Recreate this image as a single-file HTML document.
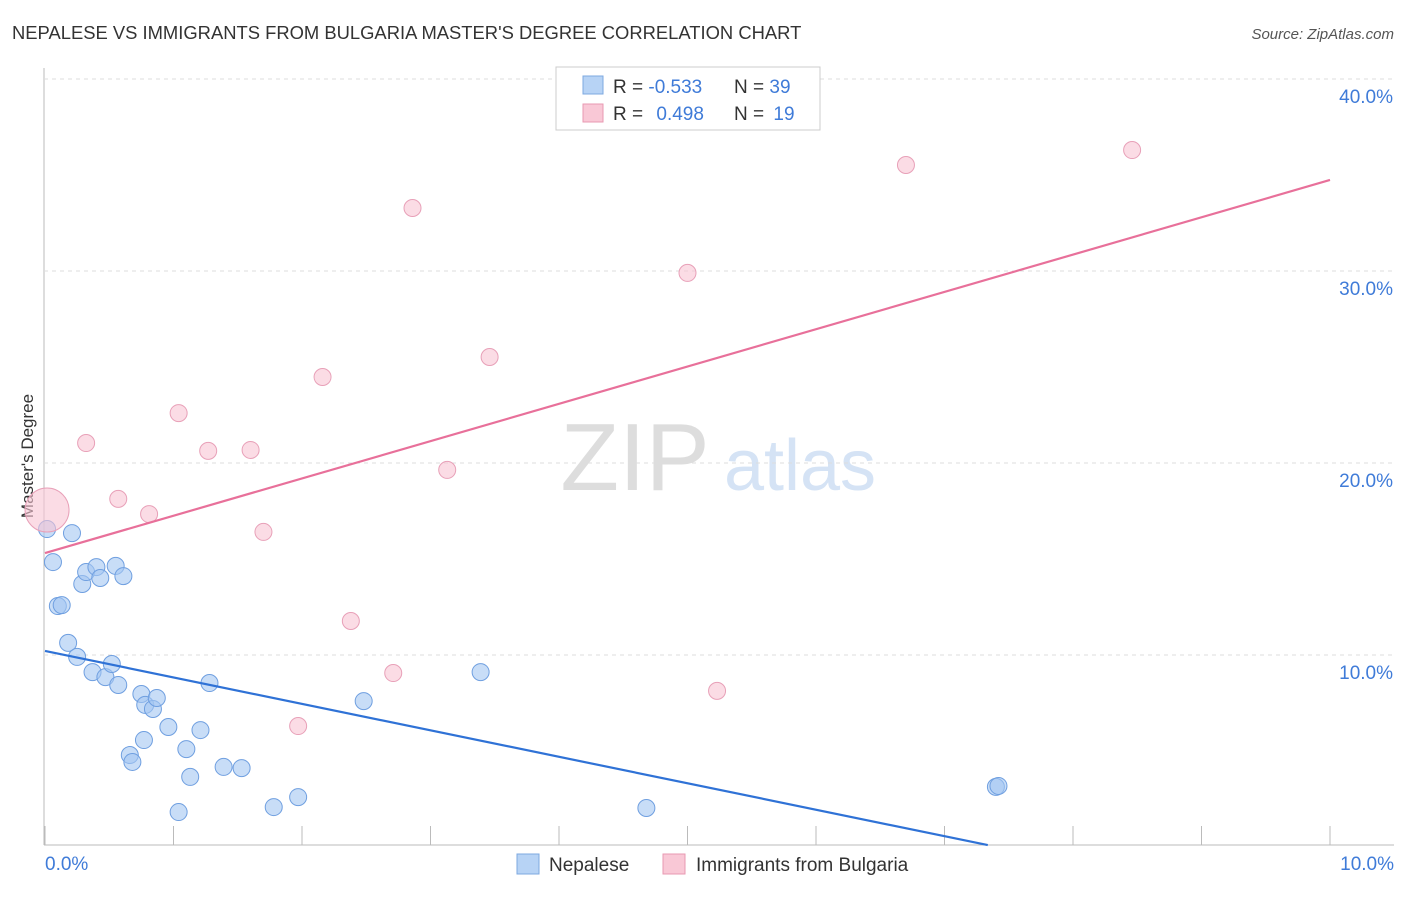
<!DOCTYPE html>
<html><head><meta charset="utf-8"><style>
body{margin:0;background:#fff;font-family:"Liberation Sans",sans-serif;}
svg text{font-family:"Liberation Sans",sans-serif;}
</style></head><body>
<svg id="c" width="1406" height="892" xmlns="http://www.w3.org/2000/svg">
<text x="12" y="39" font-size="18.4" fill="#333">NEPALESE VS IMMIGRANTS FROM BULGARIA MASTER'S DEGREE CORRELATION CHART</text>
<text x="1394" y="39" font-size="15" fill="#555" font-style="italic" text-anchor="end">Source: ZipAtlas.com</text>
<text x="33" y="456" font-size="17" fill="#333" text-anchor="middle" transform="rotate(-90 33 456)">Master's Degree</text>
<g><text x="635" y="490" font-size="96" fill="#ddd" font-family="Liberation Serif" text-anchor="middle">ZIP</text><text x="800" y="490" font-size="72" fill="#d5e3f5" text-anchor="middle">atlas</text></g>
<g id="grid"></g><g id="marks"></g>
<g>
<rect x="556" y="67" width="264" height="63" fill="#fff" stroke="#ccc"/>
<rect x="583" y="76" width="20" height="18" fill="#b7d3f5" stroke="#7ea8e0"/>
<rect x="583" y="104" width="20" height="18" fill="#f9c8d6" stroke="#e899b2"/>
<text x="613" y="93" font-size="19" fill="#333">R = <tspan fill="#3f7bd8">-0.533</tspan></text>
<text x="734" y="93" font-size="19" fill="#333">N = <tspan fill="#3f7bd8">39</tspan></text>
<text x="613" y="120" font-size="19" fill="#333">R = <tspan fill="#3f7bd8" dx="8">0.498</tspan></text>
<text x="734" y="120" font-size="19" fill="#333">N = <tspan fill="#3f7bd8" dx="4">19</tspan></text>
</g>
<g>
<rect x="517" y="854" width="22" height="20" fill="#b7d3f5" stroke="#7ea8e0"/>
<text x="549" y="871" font-size="19" fill="#333">Nepalese</text>
<rect x="663" y="854" width="22" height="20" fill="#f9c8d6" stroke="#e899b2"/>
<text x="696" y="871" font-size="19" fill="#333">Immigrants from Bulgaria</text>
</g>
</svg>
<script>
const xTicks=[0,1,2,3,4,5,6,7,8,9,10];
const yTicks=[10,20,30,40];
const blueX=[0.016,0.062,0.21,0.10,0.13,0.18,0.25,0.29,0.32,0.40,0.43,0.55,0.61,0.37,0.47,0.52,0.57,0.75,0.78,0.84,0.87,0.96,0.77,0.66,0.68,1.10,1.21,1.28,1.13,1.39,1.53,1.04,1.78,1.97,2.48,3.39,4.68,7.40,7.42];
const blueY=[16.56,14.84,16.35,12.55,12.60,10.63,9.90,13.70,14.32,14.58,14.01,14.64,14.11,9.11,8.85,9.53,8.44,7.97,7.40,7.19,7.76,6.25,5.57,4.79,4.43,5.10,6.09,8.54,3.65,4.17,4.11,1.82,2.08,2.60,7.60,9.11,2.03,3.13,3.18];
const pinkX=[0.016,0.32,0.57,0.81,1.04,1.27,1.60,1.70,2.16,2.38,2.71,2.86,3.13,3.46,5.00,5.23,6.70,8.46,1.97];
const pinkY=[17.55,21.04,18.13,17.34,22.60,20.63,20.68,16.41,24.48,11.77,9.06,33.28,19.64,25.52,29.90,8.13,35.52,36.30,6.30];
const blueFit=[10.21,-1.378];
const pinkFit=[15.31,1.943];
const NS="http://www.w3.org/2000/svg";
const sx=v=>45+v*128.5, sy=v=>847-v*19.2;
const grid=document.getElementById('grid'), marks=document.getElementById('marks');
function mk(tag,at,parent){const e=document.createElementNS(NS,tag);for(const k in at)e.setAttribute(k,at[k]);parent.appendChild(e);return e;}
let ax=mk('line',{x1:44,y1:68,x2:44,y2:845,stroke:'#bbb'},grid);


let bx=mk('line',{x1:44,y1:845,x2:1394,y2:845,stroke:'#bbb'},grid);


yTicks.forEach(t=>{
 let g=mk('line',{x1:44,y1:sy(t),x2:1394,y2:sy(t),stroke:'#ddd','stroke-dasharray':'4 4'},grid);
 
 
 let l=mk('text',{x:1393,y:sy(t)+24,'font-size':19,fill:'#3f7bd8','text-anchor':'end'},grid);l.textContent=t.toFixed(1)+'%';
 
 
});
xTicks.forEach(t=>{
 let k=mk('line',{x1:sx(t),y1:826,x2:sx(t),y2:845,stroke:'#bbb'},grid);
 
 
});
[[0,'0.0%','start',45],[10,'10.0%','end',1394]].forEach(a=>{
 let l=mk('text',{x:a[3],y:870,'font-size':19,fill:'#3f7bd8','text-anchor':a[2]},grid);l.textContent=a[1];
 
 
});
blueX.forEach((x,i)=>{
 let c=mk('circle',{cx:sx(x),cy:sy(blueY[i]),r:8.5,fill:'rgba(164,198,242,0.6)',stroke:'#6f9fe0','stroke-width':1},marks);
 
 
});
pinkX.forEach((x,i)=>{
 let c=mk('circle',{cx:sx(x),cy:sy(pinkY[i]),r:i==0?22:8.5,fill:'rgba(248,196,212,0.6)',stroke:'#e8a0b8','stroke-width':1},marks);
 
 
});
const bEnd=(0.1-blueFit[0])/blueFit[1];
let bl=mk('line',{x1:sx(0),y1:sy(blueFit[0]),x2:sx(bEnd),y2:sy(blueFit[0]+blueFit[1]*bEnd),stroke:'#2f72d6','stroke-width':2.2},marks);


let pl=mk('line',{x1:sx(0),y1:sy(pinkFit[0]),x2:sx(10),y2:sy(pinkFit[0]+pinkFit[1]*10),stroke:'#e8709a','stroke-width':2.2},marks);


</script>
</body></html>
